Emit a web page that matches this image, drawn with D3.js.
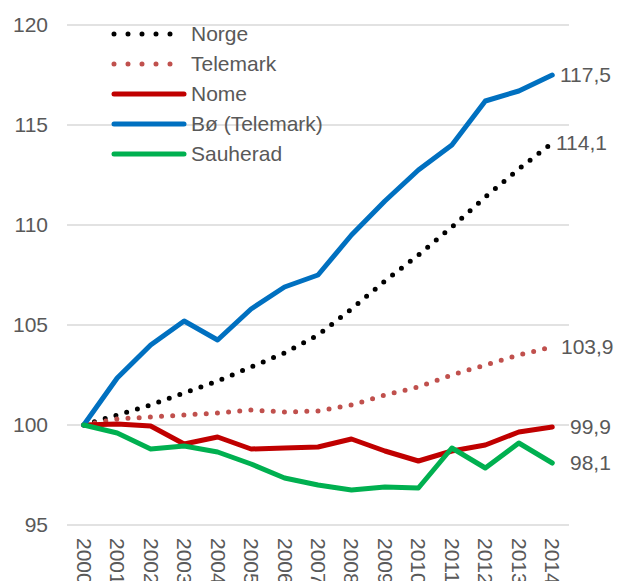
<!DOCTYPE html>
<html>
<head>
<meta charset="utf-8">
<script src="https://cdn.jsdelivr.net/npm/d3@7"></script>
<style>
  body { margin: 0; background: #fff; }
  svg text { font-family: "Liberation Sans", Arial, sans-serif; fill: #595959; }
</style>
</head>
<body>
<div id="chart"></div>
<script>
// data
var years = ['2000','2001','2002','2003','2004','2005','2006','2007','2008','2009','2010','2011','2012','2013','2014'];
var norge    = [100, 100.5, 101.0, 101.6, 102.2, 102.9, 103.6, 104.5, 105.8, 107.2, 108.5, 109.9, 111.4, 112.8, 114.1];
var telemark = [100, 100.3, 100.4, 100.5, 100.6, 100.75, 100.65, 100.7, 101.0, 101.5, 101.9, 102.5, 103.0, 103.5, 103.9];
var nome     = [100, 100.05, 99.95, 99.05, 99.4, 98.8, 98.85, 98.9, 99.3, 98.7, 98.2, 98.7, 99.0, 99.65, 99.9];
var bo       = [100, 102.35, 104.0, 105.2, 104.25, 105.8, 106.9, 107.5, 109.5, 111.2, 112.75, 114.0, 116.2, 116.7, 117.5];
var sauherad = [100, 99.6, 98.8, 98.95, 98.65, 98.05, 97.35, 97.0, 96.75, 96.9, 96.85, 98.85, 97.85, 99.1, 98.1];
var yTicks = [95, 100, 105, 110, 115, 120];
var endLabels = ['114,1', '103,9', '99,9', '117,5', '98,1'];

var series = [
  {name: 'Norge', values: norge, color: '#000000', dotted: true, label: endLabels[0], lx: 556},
  {name: 'Telemark', values: telemark, color: '#C0504D', dotted: true, label: endLabels[1], lx: 561},
  {name: 'Nome', values: nome, color: '#C00000', dotted: false, label: endLabels[2], lx: 570},
  {name: 'Bø (Telemark)', values: bo, color: '#0070C0', dotted: false, label: endLabels[3], lx: 560},
  {name: 'Sauherad', values: sauherad, color: '#00B050', dotted: false, label: endLabels[4], lx: 570}
];

var width = 625, height = 581;
var fs = '21px';
var svg = d3.select('#chart').append('svg')
    .attr('width', width).attr('height', height);

// scales
var x = d3.scaleBand().domain(years).range([67, 569]);
var y = d3.scaleLinear().domain([95, 120]).range([525, 25]);
var cx = function(d) { return x(d) + x.bandwidth() / 2; };

// gridlines
svg.append('g').selectAll('line')
    .data(yTicks).enter().append('line')
    .attr('x1', 67).attr('x2', 569)
    .attr('y1', function(d) { return y(d); })
    .attr('y2', function(d) { return y(d); })
    .attr('stroke', '#D9D9D9').attr('stroke-width', 1.5);

// y labels
svg.append('g').selectAll('text')
    .data(yTicks).enter().append('text')
    .attr('x', 48).attr('y', function(d) { return y(d); })
    .attr('dy', '0.35em')
    .attr('text-anchor', 'end')
    .attr('font-size', fs)
    .text(function(d) { return d; });

// x labels, rotated
svg.append('g').selectAll('text')
    .data(years).enter().append('text')
    .attr('transform', function(d) { return 'translate(' + (cx(d) - 7) + ',538) rotate(90)'; })
    .attr('font-size', fs)
    .text(function(d) { return d; });

// lines
var line = d3.line()
    .x(function(d, i) { return cx(years[i]); })
    .y(function(d) { return y(d); });

svg.append('g').selectAll('path')
    .data(series).enter().append('path')
    .attr('d', function(d) { return line(d.values); })
    .attr('fill', 'none')
    .attr('stroke', function(d) { return d.color; })
    .attr('stroke-width', 5)
    .attr('stroke-linecap', 'round')
    .attr('stroke-linejoin', 'round')
    .attr('stroke-dasharray', function(d) { return d.dotted ? '0 11.2' : null; });

// end labels
svg.append('g').selectAll('text')
    .data(series).enter().append('text')
    .attr('x', function(d) { return d.lx; })
    .attr('y', function(d) { return y(d.values[d.values.length - 1]); })
    .attr('dy', '0.35em')
    .attr('font-size', fs)
    .text(function(d) { return d.label; });

// legend
var legend = svg.append('g').selectAll('g')
    .data(series).enter().append('g')
    .attr('transform', function(d, i) { return 'translate(0,' + (34 + i * 30) + ')'; });

legend.append('line')
    .attr('x1', 114).attr('x2', 184)
    .attr('stroke', function(d) { return d.color; })
    .attr('stroke-width', 5)
    .attr('stroke-linecap', 'round')
    .attr('stroke-dasharray', function(d) { return d.dotted ? '0 14' : null; });

legend.append('text')
    .attr('x', 191).attr('dy', '0.35em')
    .attr('font-size', fs)
    .text(function(d) { return d.name; });
</script>
</body>
</html>
